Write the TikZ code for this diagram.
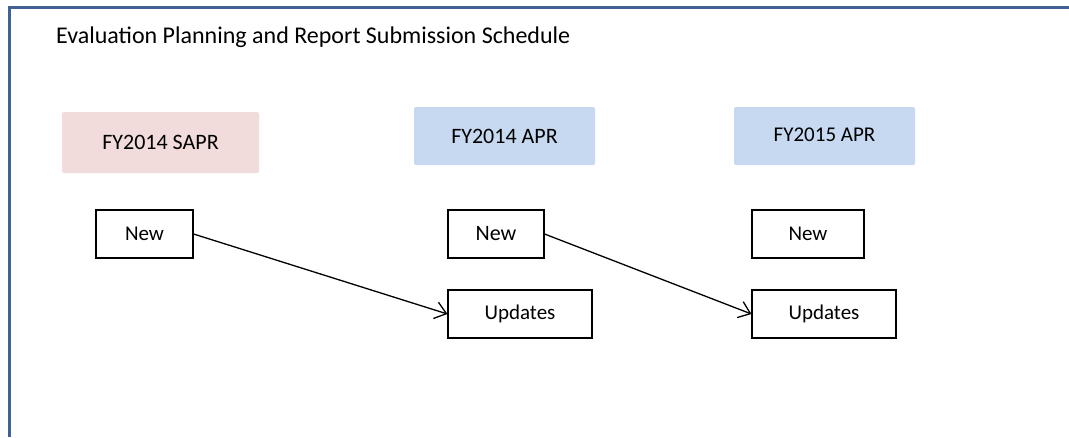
\documentclass[tikz,border=0pt]{standalone}
\usepackage{fontspec}
\setmainfont{Carlito}
\usetikzlibrary{arrows.meta}

\begin{document}
\begin{tikzpicture}
				[x=1pt,y=-1pt,line join=miter,
				%Styles
				frame line/.style={line width=3pt,framecolor},
				title text/.style={anchor=base west,inner sep=0pt,font=\fontsize{24}{28}\selectfont},
				year box/.style={rounded corners=2pt,inner sep=0pt,minimum height=58pt,font=\fontsize{22}{26}\selectfont},
				item box/.style={draw=black,line width=1.1pt,fill=white,inner sep=0pt,minimum height=48pt,font=\fontsize{21}{25}\selectfont},
				link/.style={line width=1.3pt,-{Straight Barb[length=11pt,width=17pt,line width=1.3pt]}}
				]
				
				%Colors
				\definecolor{framecolor}{HTML}{3F6296}
				\definecolor{sapr}{HTML}{F2DCDB}
				\definecolor{apr}{HTML}{C6D9F1}
				
				\useasboundingbox (0,0) rectangle (1069,437);
				
				%The frame and title
				\coordinate (frame bottom) at (9,437);
				\coordinate (frame corner) at (9,7);
				\coordinate (frame right) at (1069,7);
				\draw[frame line] (frame bottom) -- (frame corner) -- (frame right);
				\node[title text] (title) at (56,43) {Evaluation Planning and Report Submission Schedule};
				
				%The graphic
				\node[year box,fill=sapr,minimum width=197pt,minimum height=61pt] (sapr14) at (160.5,142.5) {FY2014 SAPR};
				\node[year box,fill=apr,minimum width=181pt] (apr14) at (504.5,136) {FY2014 APR};
				\node[year box,fill=apr,minimum width=181pt,font=\fontsize{21}{25}\selectfont] (apr15) at (824.5,136) {\raisebox{2pt}{FY2015 APR}};
				
				\node[item box,minimum width=97pt] (new14s) at (144.5,234) {New};
				\node[item box,minimum width=96pt,font=\fontsize{22}{26}\selectfont] (new14) at (496,234) {New};
				\node[item box,minimum width=112pt] (new15) at (808,234) {New};
				\node[item box,minimum width=144pt] (upd14) at (520,314) {Updates};
				\node[item box,minimum width=144pt] (upd15) at (824,314) {Updates};
				
				\draw[link] (new14s.east) -- (upd14.west);
				\draw[link] (new14.east) -- (upd15.west);
			\end{tikzpicture}
\end{document}
